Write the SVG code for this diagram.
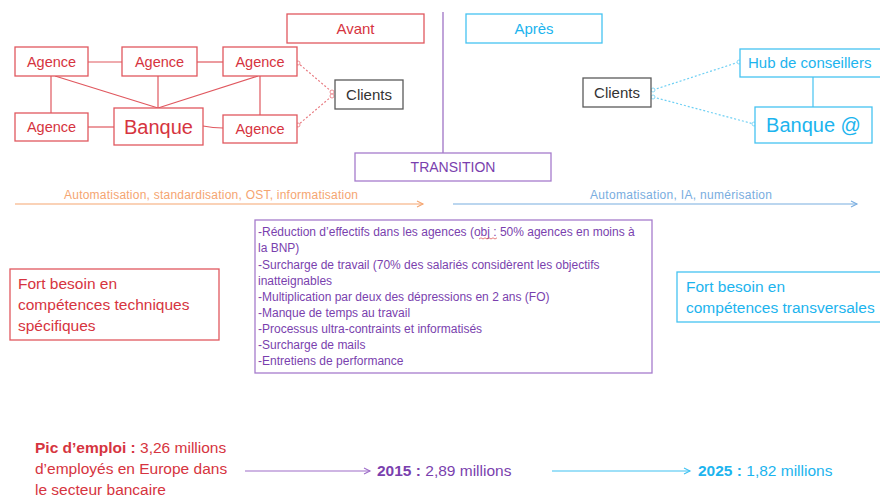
<svg xmlns="http://www.w3.org/2000/svg" width="880" height="498" viewBox="0 0 880 498">
  <style>
    text { font-family: "Liberation Sans", Arial, sans-serif; }
    .box { fill: #ffffff; stroke-width: 1.3; }
    .red { stroke: #e0585f; }
    .redT { fill: #d63440; }
    .blue { stroke: #45c3f1; }
    .blueT { fill: #1cb4ee; }
    .pur { stroke: #a67ccc; }
    .purT { fill: #7a3fae; }
    .grey { stroke: #5a5a5a; }
    .greyT { fill: #333333; }
    .c { text-anchor: middle; }
    .link-red { stroke: #e0585f; stroke-width: 1.2; fill: none; }
    .link-blue { stroke: #45c3f1; stroke-width: 1.2; fill: none; }
    .dot-red { stroke: #e87a80; stroke-width: 1.2; stroke-dasharray: 2 2; fill: none; }
    .dot-blue { stroke: #6fd0f4; stroke-width: 1.2; stroke-dasharray: 2 2; fill: none; }
  </style>
  <defs>
    <marker id="ringR" markerWidth="6" markerHeight="6" refX="3" refY="3" markerUnits="userSpaceOnUse">
      <circle cx="3" cy="3" r="2" fill="#ffffff" stroke="#e87a80" stroke-width="0.8"/>
    </marker>
    <marker id="ringB" markerWidth="6" markerHeight="6" refX="3" refY="3" markerUnits="userSpaceOnUse">
      <circle cx="3" cy="3" r="2" fill="#ffffff" stroke="#6fd0f4" stroke-width="0.8"/>
    </marker>
    <marker id="arrOrange" markerWidth="10" markerHeight="10" refX="7" refY="4" orient="auto" markerUnits="userSpaceOnUse">
      <path d="M1,1 L7,4 L1,7" fill="none" stroke="#f5a571" stroke-width="1.1"/>
    </marker>
    <marker id="arrSteel" markerWidth="10" markerHeight="10" refX="7" refY="4" orient="auto" markerUnits="userSpaceOnUse">
      <path d="M1,1 L7,4 L1,7" fill="none" stroke="#79ade0" stroke-width="1.1"/>
    </marker>
    <marker id="arrPurple" markerWidth="10" markerHeight="10" refX="7" refY="4" orient="auto" markerUnits="userSpaceOnUse">
      <path d="M1,1 L7,4 L1,7" fill="none" stroke="#9d6cc8" stroke-width="1.1"/>
    </marker>
    <marker id="arrCyan" markerWidth="10" markerHeight="10" refX="7" refY="4" orient="auto" markerUnits="userSpaceOnUse">
      <path d="M1,1 L7,4 L1,7" fill="none" stroke="#3fc1f1" stroke-width="1.1"/>
    </marker>
  </defs>

  <!-- connectors -->
  <g id="connectors">
    <!-- before: agency network -->
    <line class="link-red" x1="88" y1="62" x2="122" y2="62"/>
    <line class="link-red" x1="197" y1="62" x2="223" y2="62"/>
    <line class="link-red" x1="51" y1="76" x2="51" y2="113"/>
    <line class="link-red" x1="55" y1="76" x2="158" y2="108"/>
    <line class="link-red" x1="158" y1="76" x2="158" y2="108"/>
    <line class="link-red" x1="258" y1="76" x2="158" y2="108"/>
    <line class="link-red" x1="260" y1="76" x2="260" y2="115"/>
    <line class="link-red" x1="88" y1="127" x2="114" y2="127"/>
    <path class="link-red" d="M203,126 Q213,128 223,128"/>
    <line class="dot-red" x1="332" y1="92" x2="298" y2="63" marker-start="url(#ringR)" marker-end="url(#ringR)"/>
    <line class="dot-red" x1="332" y1="96" x2="298" y2="125" marker-start="url(#ringR)" marker-end="url(#ringR)"/>
    <!-- after: digital bank -->
    <line class="link-blue" x1="813" y1="77" x2="813" y2="107"/>
    <line class="dot-blue" x1="653" y1="90" x2="739" y2="62" marker-start="url(#ringB)" marker-end="url(#ringB)"/>
    <line class="dot-blue" x1="653" y1="97" x2="754" y2="124" marker-start="url(#ringB)" marker-end="url(#ringB)"/>
    <!-- divider -->
    <line x1="443" y1="12" x2="443" y2="153" stroke="#a57dc9" stroke-width="1.4"/>
    <!-- trend arrows -->
    <line x1="15" y1="204" x2="423" y2="204" stroke="#f5a571" stroke-width="1.2" marker-end="url(#arrOrange)"/>
    <line x1="453" y1="204" x2="857" y2="204" stroke="#79ade0" stroke-width="1.2" marker-end="url(#arrSteel)"/>
    <!-- headcount arrows -->
    <line x1="245" y1="471" x2="370" y2="471" stroke="#9d6cc8" stroke-width="1.2" marker-end="url(#arrPurple)"/>
    <line x1="552" y1="471" x2="690" y2="471" stroke="#3fc1f1" stroke-width="1.2" marker-end="url(#arrCyan)"/>
  </g>

  <!-- headers -->
  <g id="avant">
    <rect class="box red" x="287" y="14" width="137" height="29"/>
    <text class="redT c" x="355.5" y="34" font-size="15">Avant</text>
  </g>
  <g id="apres">
    <rect class="box blue" x="466" y="14" width="136" height="29"/>
    <text class="blueT c" x="534" y="34" font-size="15">Après</text>
  </g>

  <!-- before network -->
  <g id="agence1">
    <rect class="box red" x="15" y="47" width="73" height="29"/>
    <text class="redT c" x="51.5" y="67" font-size="14.5">Agence</text>
  </g>
  <g id="agence2">
    <rect class="box red" x="122" y="47" width="75" height="29"/>
    <text class="redT c" x="159.5" y="67" font-size="14.5">Agence</text>
  </g>
  <g id="agence3">
    <rect class="box red" x="223" y="47" width="74" height="29"/>
    <text class="redT c" x="260" y="67" font-size="14.5">Agence</text>
  </g>
  <g id="agence4">
    <rect class="box red" x="15" y="113" width="73" height="28"/>
    <text class="redT c" x="51.5" y="132" font-size="14.5">Agence</text>
  </g>
  <g id="banque">
    <rect class="box red" x="114" y="108" width="89" height="37"/>
    <text class="redT c" x="158.5" y="134" font-size="20">Banque</text>
  </g>
  <g id="agence5">
    <rect class="box red" x="223" y="115" width="74" height="28"/>
    <text class="redT c" x="260" y="134" font-size="14.5">Agence</text>
  </g>
  <g id="clients-avant">
    <rect class="box grey" x="335" y="80" width="68" height="29"/>
    <text class="greyT c" x="369" y="100" font-size="15">Clients</text>
  </g>

  <!-- after network -->
  <g id="clients-apres">
    <rect class="box grey" x="583" y="78" width="68" height="29"/>
    <text class="greyT c" x="617" y="98" font-size="15">Clients</text>
  </g>
  <g id="hub">
    <rect class="box blue" x="740" y="49" width="150" height="28"/>
    <text class="blueT" x="748" y="68" font-size="15">Hub de conseillers</text>
  </g>
  <g id="banque-web">
    <rect class="box blue" x="755" y="107" width="117" height="36"/>
    <text class="blueT c" x="813.5" y="132" font-size="20">Banque @</text>
  </g>

  <g id="transition">
    <rect class="box pur" x="355" y="153" width="196" height="28"/>
    <text class="purT c" x="453" y="172" font-size="14">TRANSITION</text>
  </g>

  <!-- trend labels -->
  <text x="64" y="199" font-size="12" fill="#f5a571" textLength="294">Automatisation, standardisation, OST, informatisation</text>
  <text x="590" y="199" font-size="12" fill="#79ade0" textLength="182">Automatisation, IA, numérisation</text>

  <!-- consequences -->
  <g id="consequences">
    <rect class="box pur" x="255" y="220" width="397" height="153"/>
    <g class="purT" font-size="12">
      <text x="258" y="236">-Réduction d’effectifs dans les agences (obj : 50% agences en moins à</text>
      <text x="258" y="252">la BNP)</text>
      <text x="258" y="269">-Surcharge de travail (70% des salariés considèrent les objectifs</text>
      <text x="258" y="285">inatteignables</text>
      <text x="258" y="301">-Multiplication par deux des dépressions en 2 ans (FO)</text>
      <text x="258" y="317">-Manque de temps au travail</text>
      <text x="258" y="333">-Processus ultra-contraints et informatisés</text>
      <text x="258" y="349">-Surcharge de mails</text>
      <text x="258" y="365">-Entretiens de performance</text>
    </g>
    <path d="M479,239 l2,-1.2 l2,1.2 l2,-1.2 l2,1.2 l2,-1.2 l2,1.2 l2,-1.2 l2,1.2 l2,-1.2" fill="none" stroke="#e06060" stroke-width="0.8"/>
  </g>

  <g id="besoin-tech">
    <rect class="box red" x="10" y="269" width="209" height="71"/>
    <g class="redT" font-size="15.5">
      <text x="18" y="289">Fort besoin en</text>
      <text x="18" y="310">compétences techniques</text>
      <text x="18" y="331">spécifiques</text>
    </g>
  </g>

  <g id="besoin-transv">
    <rect class="box blue" x="677" y="272" width="213" height="50"/>
    <g class="blueT" font-size="15.5">
      <text x="686" y="292">Fort besoin en</text>
      <text x="686" y="313">compétences transversales</text>
    </g>
  </g>

  <!-- headcount -->
  <g id="pic">
    <g class="redT" font-size="15.5">
      <text x="35" y="453"><tspan font-weight="bold">Pic d’emploi :</tspan> 3,26 millions</text>
      <text x="35" y="474">d’employés en Europe dans</text>
      <text x="35" y="495">le secteur bancaire</text>
    </g>
  </g>
  <g id="an2015">
    <text class="purT" x="377" y="476" font-size="15.5"><tspan font-weight="bold">2015 :</tspan> 2,89 millions</text>
  </g>
  <g id="an2025">
    <text class="blueT" x="698" y="476" font-size="15.5"><tspan font-weight="bold">2025 :</tspan> 1,82 millions</text>
  </g>
</svg>
